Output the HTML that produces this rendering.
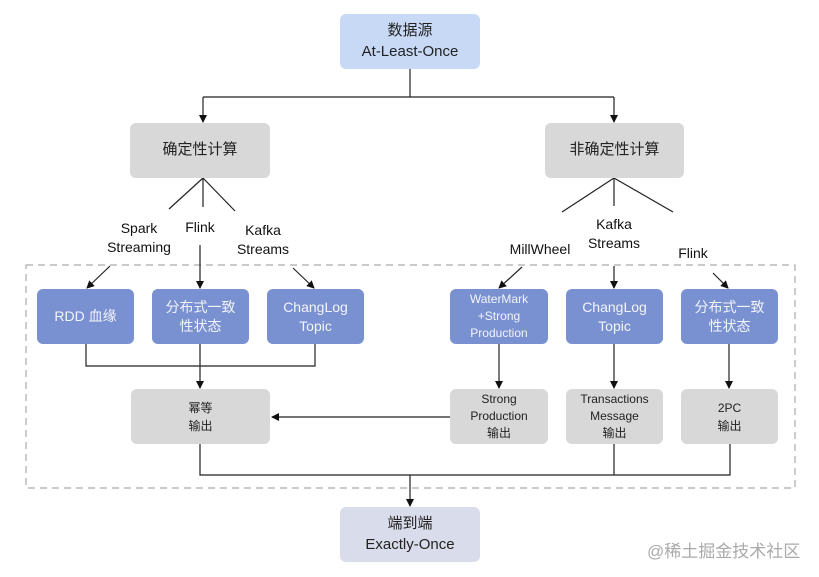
<!DOCTYPE html>
<html><head><meta charset="utf-8"><style>
body{margin:0;width:819px;height:577px;background:#fff;position:relative;overflow:hidden;font-family:"Liberation Sans","Noto Sans CJK SC",sans-serif;}
.b{position:absolute;border-radius:6px;display:flex;align-items:center;justify-content:center;text-align:center;line-height:1.35;}
.g{background:#d8d8d8;color:#222;}
.u{background:#7a91d1;color:#f2f4fb;font-size:14px;}
.t{position:absolute;font-size:14px;color:#111;text-align:center;line-height:1.35;transform:translateX(-50%);white-space:nowrap;}
svg{position:absolute;left:0;top:0;}
</style></head><body>
<svg width="819" height="577">
<defs><marker id="a" markerWidth="8" markerHeight="8" refX="7" refY="4" orient="auto" markerUnits="userSpaceOnUse"><path d="M0,0 L8,4 L0,8 z" fill="#111"/></marker></defs>
<g stroke="#222" stroke-width="1.2" fill="none">
<rect x="26" y="265" width="769" height="223" stroke="#aaa" stroke-dasharray="7,5"/>
<line x1="410" y1="69" x2="410" y2="97"/>
<line x1="203" y1="97" x2="614" y2="97"/>
<line x1="203" y1="97" x2="203" y2="122" marker-end="url(#a)"/>
<line x1="614" y1="97" x2="614" y2="122" marker-end="url(#a)"/>
<line x1="203" y1="178" x2="169" y2="209"/><line x1="203" y1="178" x2="203" y2="207"/><line x1="203" y1="178" x2="235" y2="211"/>
<line x1="614" y1="178" x2="562" y2="212"/><line x1="614" y1="178" x2="614" y2="206"/><line x1="614" y1="178" x2="673" y2="212"/>
<line x1="110" y1="266" x2="87" y2="288" marker-end="url(#a)"/>
<line x1="200" y1="245" x2="200" y2="288" marker-end="url(#a)"/>
<line x1="293" y1="268" x2="314" y2="288" marker-end="url(#a)"/>
<line x1="522" y1="267" x2="499" y2="288" marker-end="url(#a)"/>
<line x1="614" y1="266" x2="614" y2="288" marker-end="url(#a)"/>
<line x1="713" y1="273" x2="728" y2="288" marker-end="url(#a)"/>
<polyline points="86,344 86,366 315,366 315,344"/>
<line x1="200" y1="344" x2="200" y2="388" marker-end="url(#a)"/>
<line x1="499" y1="344" x2="499" y2="388" marker-end="url(#a)"/>
<line x1="614" y1="344" x2="614" y2="388" marker-end="url(#a)"/>
<line x1="729" y1="344" x2="729" y2="388" marker-end="url(#a)"/>
<line x1="450" y1="417" x2="272" y2="417" marker-end="url(#a)"/>
<polyline points="200,444 200,475 730,475 730,444"/>
<line x1="614" y1="444" x2="614" y2="475"/>
<line x1="410" y1="475" x2="410" y2="506" marker-end="url(#a)"/>
</g></svg>
<div class="b" style="left:340px;top:14px;width:140px;height:55px;background:#c8d9f6;font-size:15px;color:#222;">数据源<br>At-Least-Once</div>
<div class="b g" style="left:130px;top:123px;width:140px;height:55px;font-size:15px;">确定性计算</div>
<div class="b g" style="left:545px;top:123px;width:139px;height:55px;font-size:15px;">非确定性计算</div>
<div class="t" style="left:139px;top:219px;">Spark<br>Streaming</div>
<div class="t" style="left:200px;top:218px;">Flink</div>
<div class="t" style="left:263px;top:221px;">Kafka<br>Streams</div>
<div class="t" style="left:540px;top:240px;">MillWheel</div>
<div class="t" style="left:614px;top:215px;">Kafka<br>Streams</div>
<div class="t" style="left:693px;top:244px;">Flink</div>
<div class="b u" style="left:37px;top:289px;width:97px;height:55px;">RDD 血缘</div>
<div class="b u" style="left:152px;top:289px;width:97px;height:55px;">分布式一致<br>性状态</div>
<div class="b u" style="left:267px;top:289px;width:97px;height:55px;">ChangLog<br>Topic</div>
<div class="b u" style="left:450px;top:289px;width:98px;height:55px;font-size:12px;line-height:1.4;">WaterMark<br>+Strong<br>Production</div>
<div class="b u" style="left:566px;top:289px;width:97px;height:55px;">ChangLog<br>Topic</div>
<div class="b u" style="left:681px;top:289px;width:97px;height:55px;">分布式一致<br>性状态</div>
<div class="b g" style="left:131px;top:389px;width:139px;height:55px;font-size:12px;line-height:1.5;">幂等<br>输出</div>
<div class="b g" style="left:450px;top:389px;width:98px;height:55px;font-size:12px;line-height:1.4;">Strong<br>Production<br>输出</div>
<div class="b g" style="left:566px;top:389px;width:97px;height:55px;font-size:12px;line-height:1.4;">Transactions<br>Message<br>输出</div>
<div class="b g" style="left:681px;top:389px;width:97px;height:55px;font-size:12px;line-height:1.5;">2PC<br>输出</div>
<div class="b" style="left:340px;top:507px;width:140px;height:55px;background:#d9dcea;font-size:15px;color:#222;">端到端<br>Exactly-Once</div>
<div style="position:absolute;left:647px;top:537px;font-size:17px;color:#aaa;">@稀土掘金技术社区</div>
</body></html>
